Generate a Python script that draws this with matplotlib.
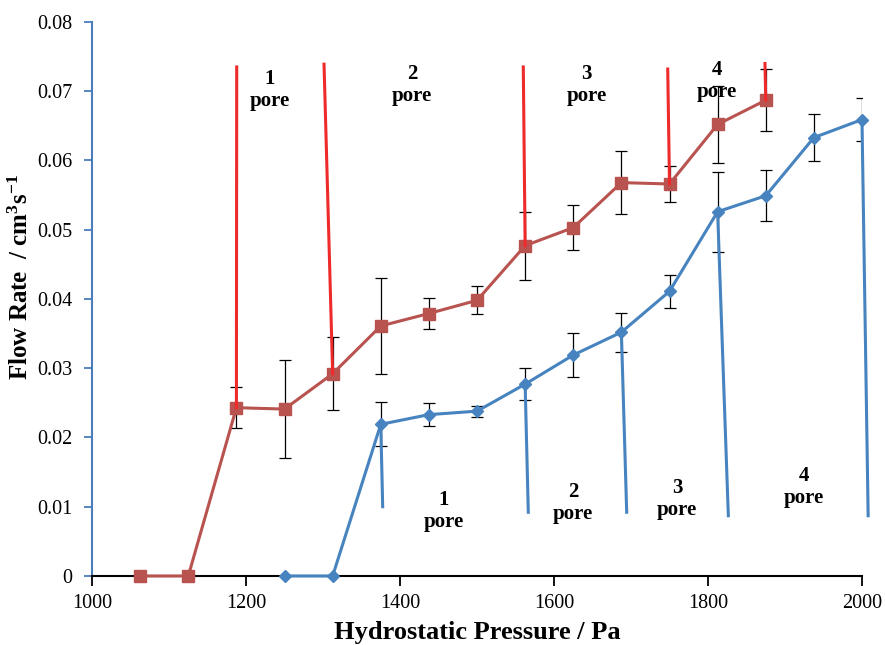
import numpy as np
import matplotlib.pyplot as plt
from matplotlib.ticker import FuncFormatter

plt.rcParams['font.family'] = 'Liberation Serif'
plt.rcParams['mathtext.fontset'] = 'custom'
plt.rcParams['mathtext.rm'] = 'Liberation Serif:bold'
plt.rcParams['mathtext.it'] = 'Liberation Serif:bold'
plt.rcParams['mathtext.bf'] = 'Liberation Serif:bold'

# red series (squares)
red_x = [1062.5, 1125, 1187.5, 1250, 1312.5, 1375, 1437.5, 1500, 1562.5,
         1625, 1687.5, 1750, 1812.5, 1875]
red_y = [0, 0, 0.0243, 0.0241, 0.0292, 0.0361, 0.0379, 0.0398, 0.0477,
         0.0503, 0.0568, 0.0566, 0.0652, 0.0687]
red_err = [0, 0, 0.0030, 0.0071, 0.0053, 0.0069, 0.0022, 0.0020, 0.0049,
           0.0032, 0.0045, 0.0026, 0.0056, 0.0045]

# blue series (diamonds)
blue_x = [1250, 1312.5, 1375, 1437.5, 1500, 1562.5, 1625, 1687.5, 1750,
          1812.5, 1875, 1937.5, 2000]
blue_y = [0, 0, 0.0219, 0.0233, 0.0238, 0.0277, 0.0319, 0.0352, 0.0411,
          0.0526, 0.0549, 0.0633, 0.0659]
blue_err = [0, 0, 0.0032, 0.0017, 0.0008, 0.0023, 0.0032, 0.0028, 0.0024,
            0.0058, 0.0037, 0.0034, 0.0031]

# pore-boundary lines: (x at point, y at point, x at far end, y at far end)
red_marks = [(1187.5, 0.0243, 1187.9, 0.0735),
             (1312.5, 0.0292, 1301.3, 0.0739),
             (1562.5, 0.0477, 1560.1, 0.0735),
             (1750, 0.0566, 1747.7, 0.0732),
             (1875, 0.0687, 1874, 0.0740)]
blue_marks = [(1375, 0.0219, 1377.5, 0.0100),
              (1562.5, 0.0277, 1566.6, 0.0092),
              (1687.5, 0.0352, 1694.4, 0.0092),
              (1812.5, 0.0526, 1826.4, 0.0087),
              (2000, 0.0659, 2008, 0.0087)]

# pore labels: x, y of the number's centre, number
top_labels = [(1231, 0.0721, '1'), (1415.6, 0.0728, '2'),
              (1642.5, 0.0728, '3'), (1811.3, 0.0733, '4')]
bot_labels = [(1457, 0.01122, '1'), (1624.7, 0.01242, '2'),
              (1759.7, 0.0130, '3'), (1924.7, 0.01469, '4')]

red_c = '#b95350'
blue_c = '#4683bf'
mark_red = '#ee2a2a'
axis_blue = '#4a7ebb'

fig = plt.figure(figsize=(8.85, 6.45), dpi=100)
ax = fig.add_axes([0.104, 0.107, 0.870, 0.859])

ax.errorbar(red_x, red_y, yerr=red_err, fmt='none', ecolor='black',
            elinewidth=0.9, capsize=4, capthick=0.9, zorder=2)
ax.errorbar(blue_x, blue_y, yerr=blue_err, fmt='none', ecolor='black',
            elinewidth=0.9, capsize=4, capthick=0.9, zorder=2)

ax.plot(red_x, red_y, color=red_c, lw=2.2, marker='s', ms=8, zorder=3, clip_on=False)
ax.plot(blue_x, blue_y, color=blue_c, lw=2.2, marker='D', ms=6, zorder=3, clip_on=False)

for x0, y0, x1, y1 in red_marks:
    ax.plot([x0, x1], [y0, y1], color=mark_red, lw=2.2, zorder=4, clip_on=False)
for x0, y0, x1, y1 in blue_marks:
    ax.plot([x0, x1], [y0, y1], color=blue_c, lw=2.2, zorder=4, clip_on=False)

for x, y, n in top_labels + bot_labels:
    ax.annotate(n, (x, y), xytext=(0, -5), textcoords='offset points',
                ha='center', va='baseline', fontsize=15, fontweight='bold')
    ax.annotate('pore', (x, y), xytext=(0, -21), textcoords='offset points',
                ha='center', va='baseline', fontsize=15, fontweight='bold')

ax.set_xlim(1000, 2000)
ax.set_ylim(0, 0.08)
ax.set_xticks(np.arange(1000, 2001, 200))
ax.set_yticks(np.arange(0, 0.0801, 0.01))
ax.yaxis.set_major_formatter(FuncFormatter(lambda v, p: '0' if abs(v) < 1e-9 else f'{v:.2f}'))

ax.spines['top'].set_visible(False)
ax.spines['right'].set_visible(False)
ax.spines['left'].set_color(axis_blue)
ax.spines['left'].set_linewidth(1.5)
ax.spines['bottom'].set_linewidth(1.5)
ax.tick_params(axis='y', colors=axis_blue, labelcolor='black', length=6, width=1.3,
               labelsize=14.5, direction='out', pad=8)
ax.tick_params(axis='x', length=7, width=1.3, labelsize=14.5, direction='out', pad=6)

ax.set_xlabel('Hydrostatic Pressure / Pa', fontsize=19, fontweight='bold')
ax.xaxis.set_label_coords(0.5, -0.081)
ax.set_ylabel(r'Flow Rate  / cm$^{3}$s$^{-1}$', fontsize=18, fontweight='bold')
ax.yaxis.set_label_coords(-0.077, 0.54)

fig.savefig('out.png', dpi=100)
